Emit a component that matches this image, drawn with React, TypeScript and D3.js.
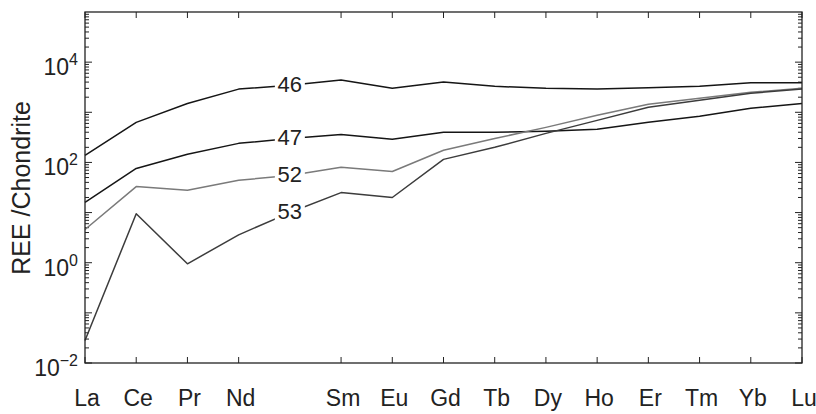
import React, { useEffect, useRef } from 'react';
import * as d3 from 'd3';

// REE patterns normalised to chondrite (Pm value = where the sample label sits)
const ELEMENTS = ["La", "Ce", "Pr", "Nd", "Pm", "Sm", "Eu", "Gd", "Tb", "Dy", "Ho", "Er", "Tm", "Yb", "Lu"];
const LABELLED = ["La", "Ce", "Pr", "Nd", "Sm", "Eu", "Gd", "Tb", "Dy", "Ho", "Er", "Tm", "Yb", "Lu"];
const SAMPLE_NAMES = ["46", "47", "52", "53"];
const S46 = [138, 630, 1500, 2900, 3470, 4400, 3000, 4000, 3300, 3000, 2900, 3100, 3300, 3900, 3900];
const S47 = [16, 76, 145, 240, 300, 360, 290, 400, 400, 420, 460, 630, 830, 1200, 1500];
const S52 = [4.6, 33, 28, 44, 55, 80, 66, 175, 300, 500, 870, 1450, 1900, 2500, 3000];
const S53 = [0.028, 9.5, 0.95, 3.6, 10, 25, 20, 115, 200, 380, 690, 1260, 1740, 2400, 2900];
const LINE_COLORS = ["#151515", "#151515", "#7a7a7a", "#3c3c3c"];
const Y_TICK_EXP = [-2, 0, 2, 4];

const FONT = "'Liberation Sans', Arial, sans-serif";

const App = () => {
    const svgRef = useRef<SVGSVGElement>(null);

    const width = 816;
    const height = 414;
    const margin = { top: 12, right: 14, bottom: 51, left: 85 };

    useEffect(() => {
        const svg = d3.select(svgRef.current);
        svg.selectAll("*").remove();

        const x = d3.scalePoint<string>()
            .domain(ELEMENTS)
            .range([margin.left, width - margin.right]);
        const y = d3.scaleLog()
            .domain([1e-2, 1e5])
            .range([height - margin.bottom, margin.top]);

        const x0 = margin.left, x1 = width - margin.right;
        const y0 = height - margin.bottom, y1 = margin.top;

        // ticks (all pointing inward, matlab style)
        const ticks = svg.append('g').attr('stroke', '#222').attr('stroke-width', 1);
        LABELLED.forEach(e => {
            const xx = x(e) as number;
            ticks.append('line').attr('x1', xx).attr('x2', xx).attr('y1', y0).attr('y2', y0 - 6);
            ticks.append('line').attr('x1', xx).attr('x2', xx).attr('y1', y1).attr('y2', y1 + 6);
        });
        for (let d = -2; d < 5; d++) {
            for (let k = 1; k < 10; k++) {
                const v = k * Math.pow(10, d);
                const len = k === 1 ? 7 : 4;
                const yy = y(v);
                ticks.append('line').attr('x1', x0).attr('x2', x0 + len).attr('y1', yy).attr('y2', yy);
                ticks.append('line').attr('x1', x1).attr('x2', x1 - len).attr('y1', yy).attr('y2', yy);
            }
        }

        // lines
        const line = d3.line<number>()
            .x((d, i) => x(ELEMENTS[i]) as number)
            .y(d => y(d));
        const series = [S46, S47, S52, S53];
        series.forEach((s, i) => {
            svg.append('path')
                .datum(s)
                .attr('d', line)
                .attr('fill', 'none')
                .attr('stroke', LINE_COLORS[i])
                .attr('stroke-width', 1.5)
                .attr('stroke-linejoin', 'round');
        });

        // inline labels at Pm
        series.forEach((s, i) => {
            const lx = x("Pm") as number;
            const ly = y(s[4]);
            svg.append('rect')
                .attr('x', lx - 15).attr('y', ly - 11)
                .attr('width', 30).attr('height', 22)
                .attr('fill', '#fff');
            svg.append('text')
                .attr('x', lx).attr('y', ly + 1)
                .attr('text-anchor', 'middle')
                .attr('dominant-baseline', 'middle')
                .attr('font-family', FONT)
                .attr('font-size', 22)
                .attr('fill', '#222')
                .text(SAMPLE_NAMES[i]);
        });

        // box
        svg.append('rect')
            .attr('x', x0).attr('y', y1)
            .attr('width', x1 - x0).attr('height', y0 - y1)
            .attr('fill', 'none')
            .attr('stroke', '#222')
            .attr('stroke-width', 1.3);

        // x labels
        LABELLED.forEach(e => {
            svg.append('text')
                .attr('x', (x(e) as number) + 2)
                .attr('y', 400)
                .attr('text-anchor', 'middle')
                .attr('dominant-baseline', 'middle')
                .attr('font-family', FONT)
                .attr('font-size', 23)
                .attr('fill', '#222')
                .text(e);
        });

        // y labels 10^n
        Y_TICK_EXP.forEach(p => {
            const t = svg.append('text')
                .attr('x', 78)
                .attr('y', y(Math.pow(10, p)) + 13)
                .attr('text-anchor', 'end')
                .attr('font-family', FONT)
                .attr('font-size', 23)
                .attr('fill', '#222');
            t.append('tspan').text('10');
            t.append('tspan')
                .attr('dy', -10)
                .attr('font-size', 16)
                .text(p < 0 ? '\u2212' + Math.abs(p) : String(p));
        });

        // y title
        svg.append('text')
            .attr('transform', 'translate(30 ' + 188 + ') rotate(-90)')
            .attr('text-anchor', 'middle')
            .attr('font-family', FONT)
            .attr('font-size', 25)
            .attr('fill', '#222')
            .text('REE /Chondrite');
    }, []);

    return <svg ref={svgRef} width={width} height={height}
        style={{ position: 'absolute', left: 0, top: 0, background: '#fff' }} />;
};

export default App;
